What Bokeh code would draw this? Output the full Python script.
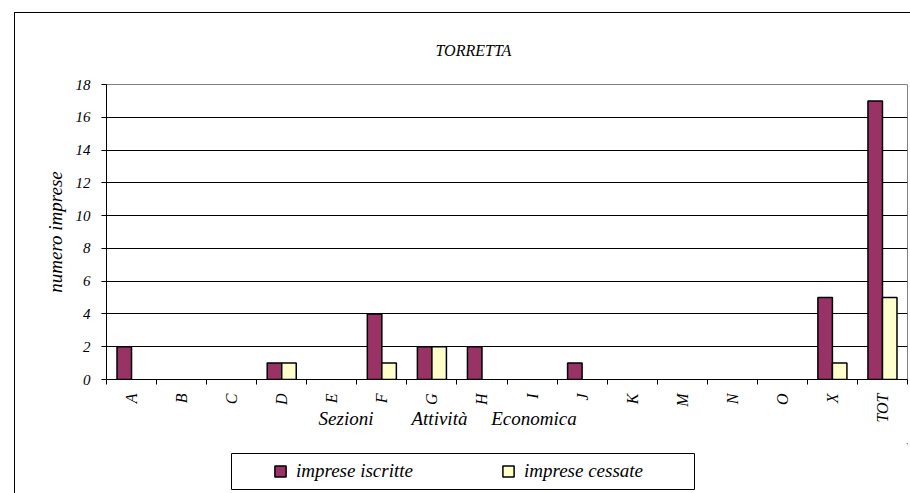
from math import pi
from bokeh.plotting import figure
from bokeh.layouts import column
from bokeh.models import (ColumnDataSource, FactorRange, FixedTicker, LinearAxis, CategoricalAxis,
                          Legend, LegendItem, CDSView, BooleanFilter, BoxAnnotation)
from bokeh.transform import dodge
from bokeh.embed import file_html
from bokeh.resources import INLINE

# ---- data ----
categories = ["A", "B", "C", "D", "E", "F", "G", "H", "I", "J", "K", "M", "N", "O", "X", "TOT"]
iscritte = [2, 0, 0, 1, 0, 4, 2, 2, 0, 1, 0, 0, 0, 0, 5, 17]
cessate = [0, 0, 0, 1, 0, 1, 2, 0, 0, 0, 0, 0, 0, 0, 1, 5]
y_ticks = [0, 2, 4, 6, 8, 10, 12, 14, 16, 18]
series_names = ["imprese iscritte", "imprese cessate"]
chart_title = "TORRETTA"
y_title = "numero imprese"
x_title_words = ["Sezioni", "Attività", "Economica"]

FONT = "Liberation Serif"
C_ISC = "#993366"
C_CES = "#FFFFCC"
NB = "\u00a0"
BAR_W = 0.29

src = ColumnDataSource(data=dict(cat=categories, isc=iscritte, ces=cessate))

p = figure(x_range=FactorRange(*categories), y_range=(y_ticks[0], y_ticks[-1]),
           width=895, height=430, output_backend="svg", toolbar_location=None,
           x_axis_location=None, min_border_left=91, min_border_right=3,
           min_border_top=70, min_border_bottom=64)
p.outline_line_color = "#808080"
p.outline_line_width = 1
p.background_fill_color = "white"
p.border_fill_color = "white"

# title
p.title.text = chart_title
p.title.align = "left"
p.title.offset = 329
p.title.standoff = 52
p.title.text_font = FONT
p.title.text_font_style = "italic"
p.title.text_font_size = "16px"
p.title.text_color = "black"

# y axis
p.yaxis.ticker = FixedTicker(ticks=y_ticks)
p.yaxis.major_tick_in = 0
p.yaxis.major_tick_out = 5
p.yaxis.minor_tick_in = 0
p.yaxis.minor_tick_out = 0
p.yaxis.axis_line_color = "black"
p.yaxis.major_tick_line_color = "black"
p.yaxis.major_label_standoff = 11
p.yaxis.major_label_text_font = FONT
p.yaxis.major_label_text_font_style = "italic"
p.yaxis.major_label_text_font_size = "15px"
p.yaxis.major_label_text_color = "black"
p.yaxis.axis_label = y_title
p.yaxis.axis_label_text_font = FONT
p.yaxis.axis_label_text_font_style = "italic"
p.yaxis.axis_label_text_font_size = "19px"
p.yaxis.axis_label_text_color = "black"
p.yaxis.axis_label_standoff = 7

p.ygrid.ticker = FixedTicker(ticks=y_ticks[1:-1])
p.ygrid.grid_line_color = "black"
p.ygrid.grid_line_width = 1
p.xgrid.visible = False

# x axis: ticks at category boundaries
bounds = list(range(len(categories) + 1))
ax_t = LinearAxis(ticker=FixedTicker(ticks=bounds))
ax_t.major_label_overrides = {b: "" for b in bounds}
ax_t.major_label_standoff = 0
ax_t.major_tick_in = 0
ax_t.major_tick_out = 5
ax_t.minor_tick_in = 0
ax_t.minor_tick_out = 0
ax_t.axis_line_color = "black"
ax_t.major_tick_line_color = "black"
p.add_layout(ax_t, "below")

# x axis: category labels + axis title
ax_c = CategoricalAxis()
ax_c.major_tick_in = 0
ax_c.major_tick_out = 0
ax_c.axis_line_color = None
ax_c.major_tick_line_color = None
ax_c.major_label_orientation = pi / 2
ax_c.major_label_standoff = 9
ax_c.major_label_text_font = FONT
ax_c.major_label_text_font_style = "italic"
ax_c.major_label_text_font_size = "16px"
ax_c.major_label_text_color = "black"
ax_c.axis_label = (x_title_words[0] + NB * 8 + x_title_words[1] + NB * 5 + x_title_words[2] + NB * 25)
ax_c.axis_label_text_font = FONT
ax_c.axis_label_text_font_style = "italic"
ax_c.axis_label_text_font_size = "19px"
ax_c.axis_label_text_color = "black"
ax_c.axis_label_standoff = -18
p.add_layout(ax_c, "below")

# bars
view_i = CDSView(filter=BooleanFilter([v > 0 for v in iscritte]))
view_c = CDSView(filter=BooleanFilter([v > 0 for v in cessate]))
p.vbar(x=dodge("cat", -BAR_W / 2, range=p.x_range), top="isc", width=BAR_W, source=src, view=view_i,
       fill_color=C_ISC, line_color="black", line_width=1.5)
p.vbar(x=dodge("cat", BAR_W / 2, range=p.x_range), top="ces", width=BAR_W, source=src, view=view_c,
       fill_color=C_CES, line_color="black", line_width=1.5)

# legend strip (same side borders as the chart so the frames align)
pl = figure(width=895, height=50, output_backend="svg", toolbar_location=None,
            x_axis_location=None, y_axis_location=None, x_range=(0, 1), y_range=(0, 1),
            min_border_left=91, min_border_right=3, min_border_top=0, min_border_bottom=0)
pl.outline_line_color = None
pl.background_fill_color = "white"
pl.border_fill_color = "white"
pl.xgrid.visible = False
pl.ygrid.visible = False
# legend key proxies, placed outside the visible ranges so only their legend keys show
k1 = pl.vbar(x=[10], bottom=[10], top=[11], width=BAR_W, fill_color=C_ISC, line_color="black", line_width=1.5)
k2 = pl.vbar(x=[10], bottom=[10], top=[11], width=BAR_W, fill_color=C_CES, line_color="black", line_width=1.5)
legend = Legend(items=[LegendItem(label=series_names[0], renderers=[k1]),
                       LegendItem(label=series_names[1], renderers=[k2])],
                orientation="horizontal", location=(167, 11), margin=0, padding=0,
                spacing=88, glyph_width=14, glyph_height=14, label_standoff=9, label_height=22,
                border_line_alpha=0, background_fill_alpha=0,
                label_text_font=FONT, label_text_font_style="italic",
                label_text_font_size="19px", label_text_color="black")
pl.add_layout(legend, "center")
pl.add_layout(BoxAnnotation(left=125, right=588, bottom=4, top=40,
                            left_units="screen", right_units="screen",
                            top_units="screen", bottom_units="screen",
                            fill_alpha=0, line_color="black", line_width=1, line_alpha=1))

layout = column(p, pl, spacing=0,
                styles={"margin-left": "14px", "margin-top": "12px",
                        "border-left": "1px solid black", "border-top": "1px solid black"})

open("out.html", "w").write(file_html(layout, INLINE))
